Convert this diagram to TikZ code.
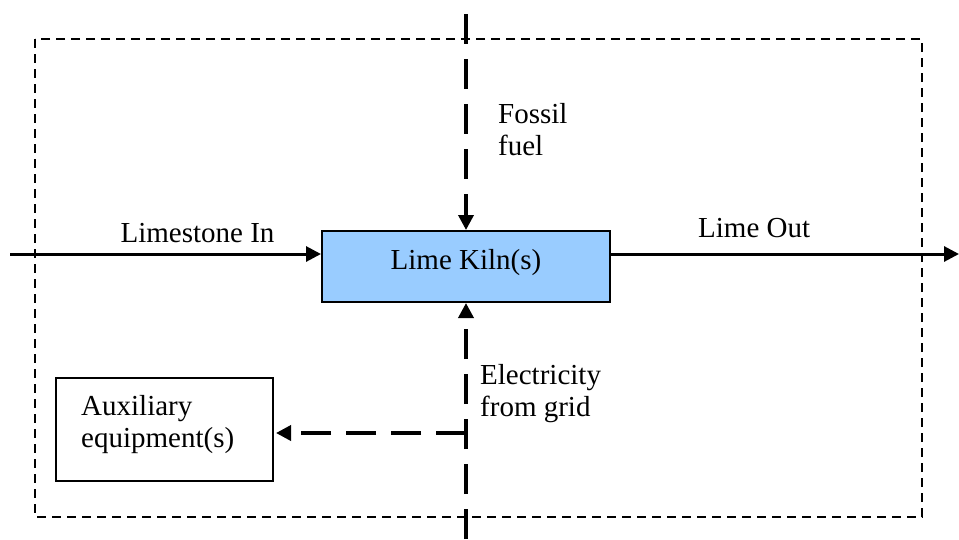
\documentclass[tikz,border=0pt]{standalone}
\usepackage{fontspec}
\setmainfont{Liberation Serif}
\usetikzlibrary{arrows.meta}
\definecolor{kilnblue}{HTML}{99CCFF}
\tikzset{
  tip/.style={-{Triangle[length=15pt,width=15pt]}},
  solidline/.style={line width=3pt},
  longdash/.style={line width=3.5pt, dash pattern=on 30pt off 15pt},
  shortdash/.style={line width=2.5pt, dash pattern=on 9pt off 6pt},
  boxstyle/.style={draw=black, line width=2pt, rectangle},
  lbl/.style={font=\fontsize{29}{32}\selectfont, inner sep=0pt, align=left},
}
\begin{document}
\begin{tikzpicture}[x=1pt,y=-1pt]
\useasboundingbox (0,0) rectangle (959,539);
\fill[white] (0,0) rectangle (959,539);
% outer boundary
\draw[shortdash] (35,39) rectangle (922,517);
% kiln
\node[boxstyle, fill=kilnblue, minimum width=288pt, minimum height=71pt, text height=14pt, text depth=9pt, font=\fontsize{29}{32}\selectfont, inner sep=0pt] (kiln) at (466,266.5) {Lime Kiln(s)};
% auxiliary box
\node[boxstyle, minimum width=217pt, minimum height=103pt, inner sep=0pt] (aux) at (164.5,429.5) {};
\node[lbl, anchor=base west] (auxtext) at (81,447) {Auxiliary\\equipment(s)};
% coordinates
\coordinate (lsin) at (10,254);
\coordinate (lout) at (959,254);
\coordinate (fuel) at (466,14);
\coordinate (grid) at (466,539);
\coordinate (branch) at (466,433);
% connectors
\draw[solidline, tip] (lsin) -- (lsin -| kiln.west);
\draw[solidline, tip] (lout -| kiln.east) -- (lout);
\draw[longdash, tip] (fuel) -- (kiln.north);
\draw[longdash, tip] (grid) -- (kiln.south);
\draw[longdash, tip, shorten >=2pt] (branch) -- (branch -| aux.east);
% labels
\node[lbl, anchor=base] (limein) at (197.5,242) {Limestone In};
\node[lbl, anchor=base west] (limeout) at (698,237) {Lime Out};
\node[lbl, anchor=base west] (fossil) at (498,155) {Fossil\\fuel};
\node[lbl, anchor=base west] (elec) at (480,416) {Electricity\\from grid};
\end{tikzpicture}
\end{document}
